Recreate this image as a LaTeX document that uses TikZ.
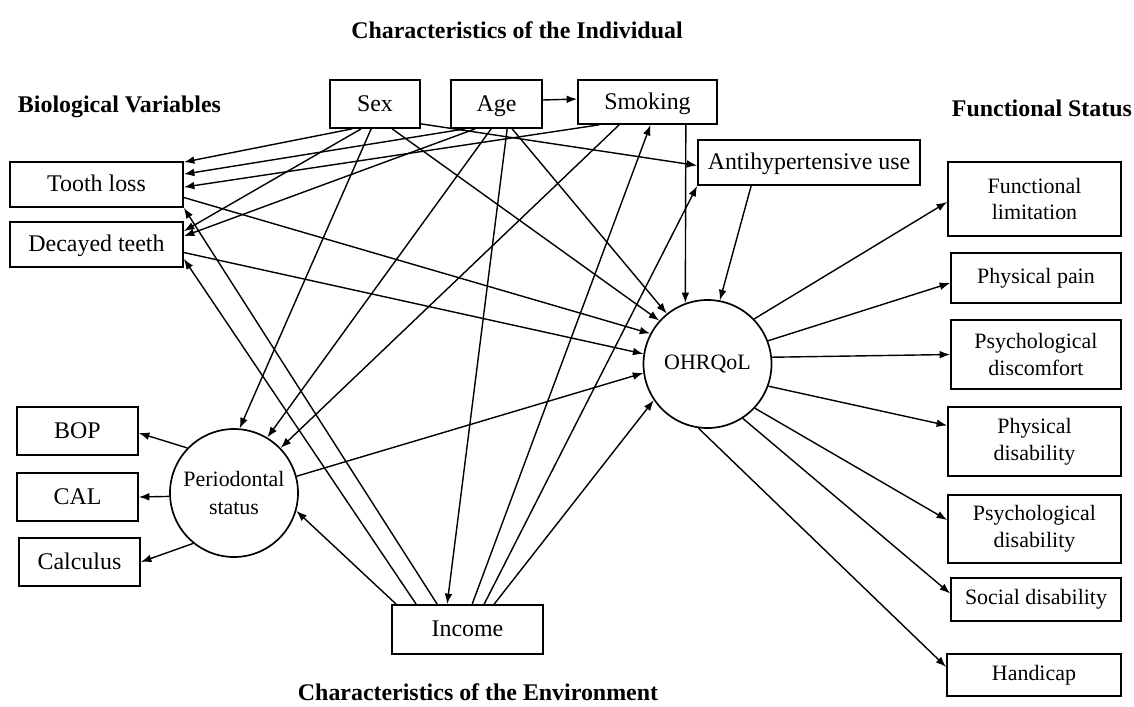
\documentclass[tikz,border=0pt]{standalone}
\usepackage{fontspec}
\setmainfont{Liberation Serif}
\usetikzlibrary{arrows.meta,calc}

\begin{document}
\begin{tikzpicture}[
        x=0.025cm, y=-0.025cm,
        >={Latex[length=7.5pt,width=5.5pt]},
        frame/.style 2 args={draw, line width=1.2pt, minimum width=#1*0.025cm, minimum height=#2*0.025cm,
            inner sep=0pt, align=center},
        box/.style 2 args={frame={#1}{#2}, text height=12pt, text depth=2pt, font=\fontsize{17}{19}\selectfont},
        rbox/.style 2 args={frame={#1}{#2}, font=\fontsize{15.6}{19}\selectfont},
        latent/.style={draw, circle, line width=1.2pt, minimum size=128*0.025cm, inner sep=0pt,
            align=center, font=\fontsize{15.6}{20}\selectfont},
        heading/.style={font=\fontsize{17}{19}\selectfont\bfseries},
        link/.style={->, line width=1pt}
    ]
        \useasboundingbox (0,0) rectangle (1134,706);

        \node[heading] (indiv) at (517,30) {Characteristics of the Individual};
        \node[heading, anchor=west] (biol) at (13,107) {Biological Variables};
        \node[heading, anchor=west] (funct) at (947,108) {Functional Status};
        \node[heading] (envir) at (478,692) {Characteristics of the Environment};

        \node[box={90}{48}] (sex) at (375,104) {Sex};
        \node[box={91}{48}] (age) at (496.5,104) {Age};
        \node[box={139}{44}] (smoking) at (647.5,102) {Smoking};
        \node[box={222}{45}] (antihyp) at (809,162.5) {Antihypertensive use};
        \node[box={173}{45}] (toothloss) at (96.5,184.5) {Tooth loss};
        \node[box={173}{45}] (decayed) at (96.5,244.5) {Decayed teeth};
        \node[box={121}{48}] (bop) at (77.5,431) {BOP};
        \node[box={121}{48}] (cal) at (77.5,497) {CAL};
        \node[box={121}{48}] (calculus) at (79.5,562) {Calculus};
        \node[box={151}{49}] (income) at (467.5,629.5) {Income};
        \node[latent] (perio) at (234,493) {Periodontal\\status};
        \node[latent] (ohrqol) at (707.5,364) {OHRQoL};

        \node[rbox={173}{74}] (funclim) at (1034.5,199) {Functional\\limitation};
        \node[rbox={170}{50}] (pain) at (1036,278) {Physical pain};
        \node[rbox={170}{69}] (discomf) at (1036,354.5) {Psychological\\discomfort};
        \node[rbox={173}{69}] (physdis) at (1034.5,441.5) {Physical\\disability};
        \node[rbox={173}{68}] (psychdis) at (1034.5,529) {Psychological\\disability};
        \node[rbox={170}{43}] (social) at (1036,599.5) {Social disability};
        \node[rbox={174}{42}] (handicap) at (1034,675) {Handicap};

        \draw[link] ($(sex.south west)+(23,0)$) -- ($(toothloss.north east)+(0,1)$);
        \draw[link] ($(sex.south west)+(32,0)$) -- ($(decayed.north east)+(0,10)$);
        \draw[link] ($(sex.south west)+(42,0)$) -- (perio.85);
        \draw[link] ($(sex.south west)+(63,0)$) -- (ohrqol.138);
        \draw[link] ($(sex.south east)+(0,-5)$) -- ($(antihyp.west)+(0,3)$);

        \draw[link] ($(age.east)+(0,-4)$) -- ($(smoking.west)+(0,-3)$);
        \draw[link] ($(age.south west)+(15,0)$) -- ($(toothloss.north east)+(0,13)$);
        \draw[link] ($(age.south west)+(25,0)$) -- ($(decayed.north east)+(0,15)$);
        \draw[link] ($(age.south west)+(41,0)$) -- (perio.59);
        \draw[link] ($(age.south west)+(57,0)$) -- ($(income.north west)+(56,0)$);
        \draw[link] ($(age.south west)+(62,0)$) -- (ohrqol.129);

        \draw[link] ($(smoking.south west)+(22,0)$) -- ($(toothloss.north east)+(0,26)$);
        \draw[link] ($(smoking.south west)+(42,0)$) -- (perio.44);
        \draw[link] ($(smoking.south east)+(-32,0)$) -- (ohrqol.110);
        \draw[link] ($(antihyp.south west)+(54,0)$) -- (ohrqol.79);

        \draw[link] ($(toothloss.east)+(0,13)$) -- (ohrqol.152);
        \draw[link] ($(decayed.east)+(0,8)$) -- (ohrqol.171);

        \draw[link] (perio.15) -- (ohrqol.188);
        \draw[link] (perio.136) -- ($(bop.east)+(0,2)$);
        \draw[link] (perio.183) -- (cal.east);
        \draw[link] (perio.231) -- (calculus.east);

        \draw[link] ($(income.north west)+(5,0)$) -- (perio.-16);
        \draw[link] ($(income.north west)+(25,0)$) -- ($(decayed.south east)+(0,-9)$);
        \draw[link] ($(income.north west)+(46,0)$) -- (toothloss.south east);
        \draw[link] ($(income.north west)+(81,0)$) -- ($(smoking.south)+(3,0)$);
        \draw[link] ($(income.north west)+(93,0)$) -- (antihyp.south west);
        \draw[link] ($(income.north west)+(103,0)$) -- (ohrqol.214);

        \draw[link] (ohrqol.44) -- ($(funclim.west)+(0,3)$);
        \draw[link] (ohrqol.21) -- ($(pain.west)+(0,5)$);
        \draw[link] (ohrqol.6) -- (discomf.west);
        \draw[link] (ohrqol.-20) -- ($(physdis.west)+(0,-16)$);
        \draw[link] (ohrqol.-43) -- ($(psychdis.west)+(0,-9)$);
        \draw[link] (ohrqol.-57) -- ($(social.west)+(0,-6)$);
        \draw[link] (ohrqol.-98) -- ($(handicap.west)+(0,-8)$);
    \end{tikzpicture}
\end{document}
